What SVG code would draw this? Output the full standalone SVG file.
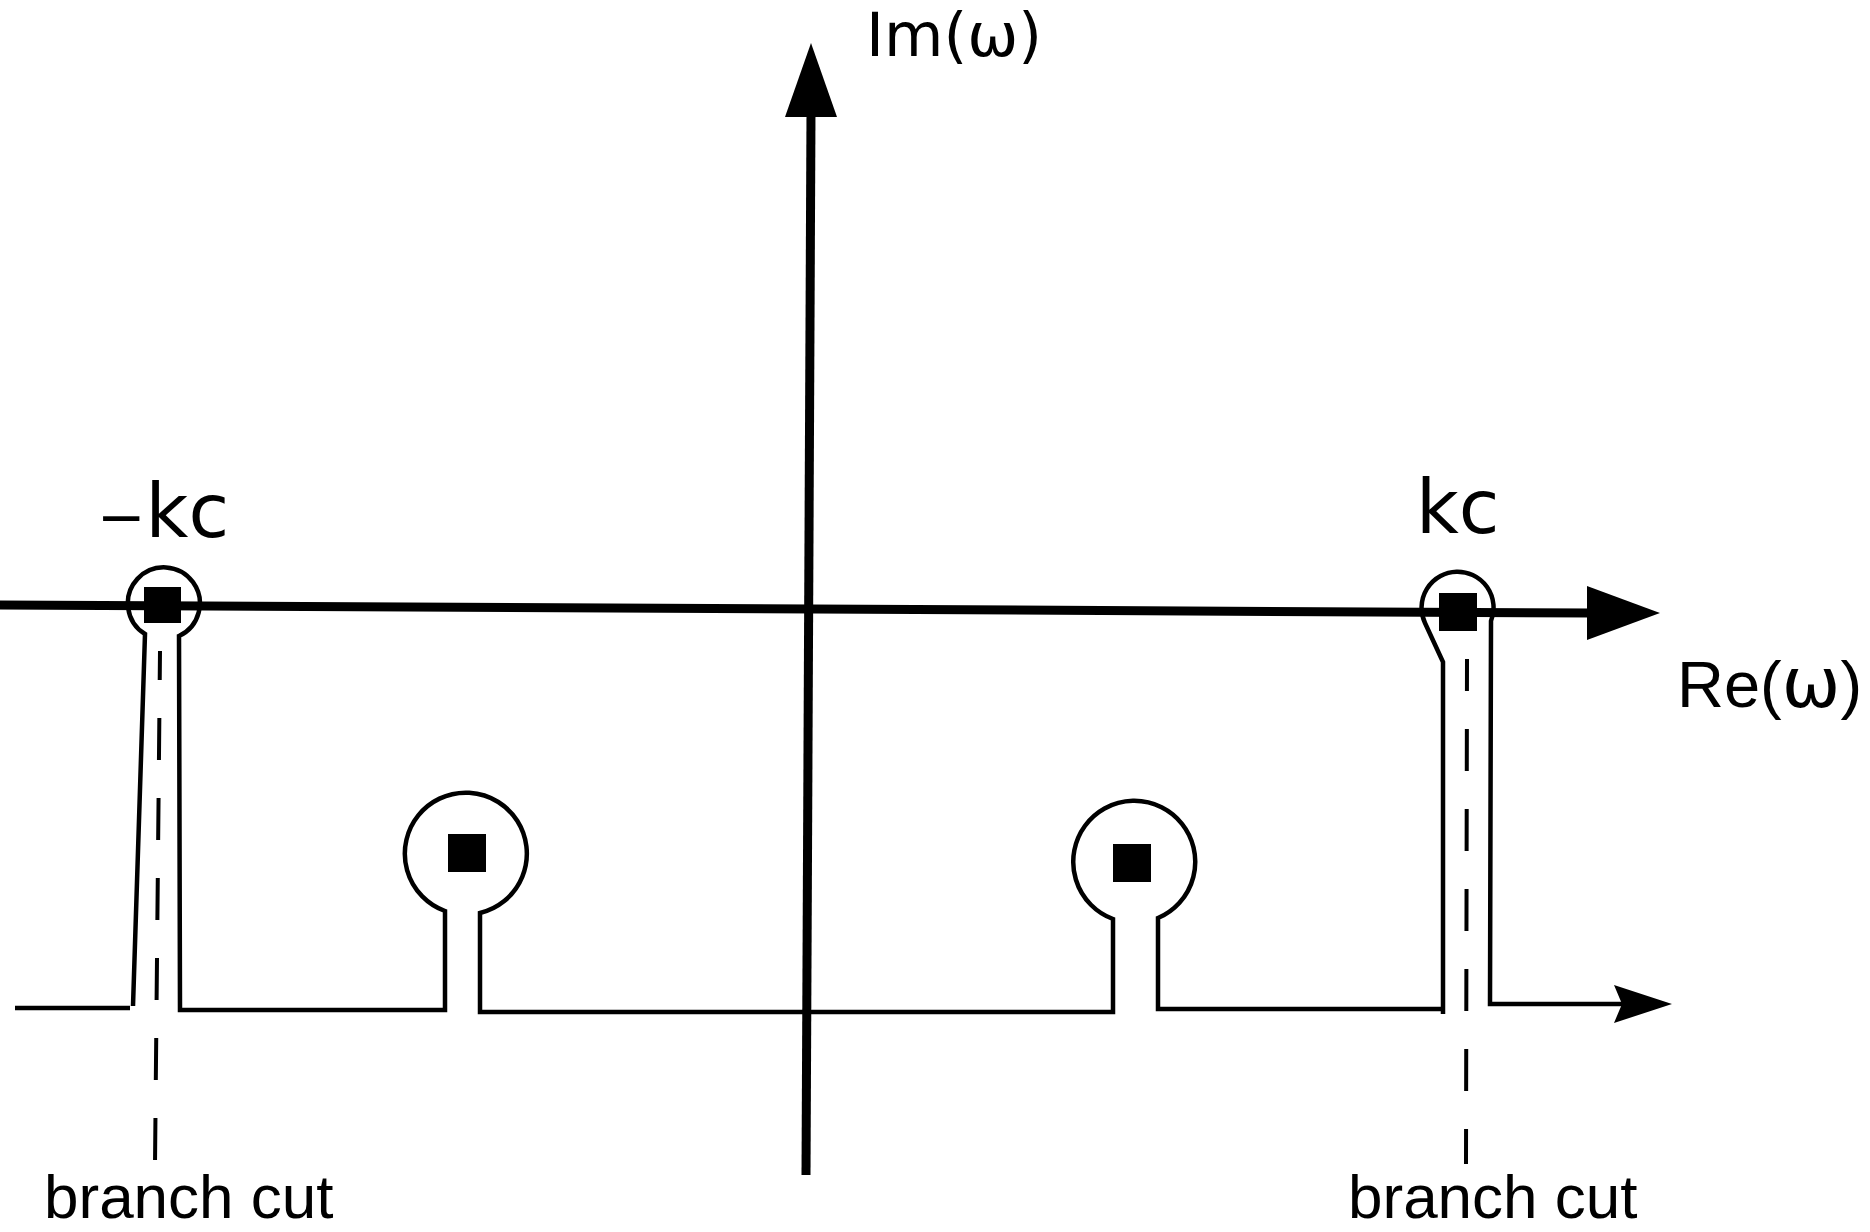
<svg xmlns="http://www.w3.org/2000/svg" width="1870" height="1232" viewBox="0 0 1870 1232">
<style>
.axis{stroke:#000;stroke-width:9;fill:none}
.contour{stroke:#000;stroke-width:4.5;fill:none;stroke-linejoin:miter}
.cut{stroke:#000;stroke-width:4;fill:none;stroke-dasharray:42 38}
.pole{fill:#000}
.lbl{font-family:"DejaVu Sans",sans-serif;font-size:74px;fill:#000}
.ax{font-family:"Liberation Sans",Arial,sans-serif;fill:#000}
.om{font-family:"DejaVu Sans",sans-serif}
.bc{font-family:"Liberation Sans",Arial,sans-serif;font-size:62px;fill:#000}
</style>
<rect width="1870" height="1232" fill="#fff"/>
<g id="connectors">
  <path class="axis" d="M0 605 L1592 613"/>
  <polygon points="1587,586 1660,613 1587,640" fill="#000"/>
  <path class="axis" d="M806 1175 L811 112"/>
  <polygon points="785,117 811,43 837,117" fill="#000"/>
  <path class="contour" d="M15 1008 H130"/>
  <path class="contour" d="M133 1006 L145 634 A36 36 0 1 1 179 636 L180 1010 H445 V911 A61 61 0 1 1 480 913 V1012 L1113 1012 V919 A61 61 0 1 1 1158 918 V1009 H1443"/>
  <path class="contour" d="M1443 1014 V662 L1425 623 A36 36 0 1 1 1491 621 L1490 1004 H1625"/>
  <polygon points="1614,985 1672,1004 1614,1023 1622,1004" fill="#000"/>
  <path class="cut" d="M160 651 L155 1164" stroke-dashoffset="13"/>
  <path class="cut" d="M1467 659 L1466 1164" stroke-dashoffset="10"/>
</g>
<g id="node-minus-kc">
  <rect class="pole" x="144" y="587" width="37" height="36"/>
  <text class="lbl" x="97" y="537"><tspan font-size="58">−</tspan>kc</text>
</g>
<g id="node-kc">
  <rect class="pole" x="1439" y="593" width="38" height="38"/>
  <text class="lbl" x="1416" y="533">kc</text>
</g>
<g id="pole-left">
  <rect class="pole" x="448" y="834" width="38" height="38"/>
</g>
<g id="pole-right">
  <rect class="pole" x="1113" y="844" width="38" height="38"/>
</g>
<g id="label-im">
  <text x="866" y="56" font-family="DejaVu Sans,sans-serif" font-size="61" fill="#000">Im(ω)</text>
</g>
<g id="label-re">
  <text class="ax" x="1677" y="707" font-size="65">Re(<tspan class="om" font-size="70">ω</tspan>)</text>
</g>
<g id="label-cut-left">
  <text class="bc" x="44" y="1218">branch cut</text>
</g>
<g id="label-cut-right">
  <text class="bc" x="1348" y="1218">branch cut</text>
</g>
</svg>
